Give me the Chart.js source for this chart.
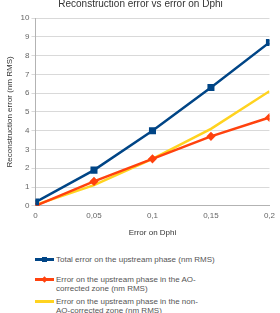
<!DOCTYPE html>
<html>
<head>
<meta charset="utf-8">
<script src="https://cdn.jsdelivr.net/npm/chart.js@4"></script>
<style>
  body { margin: 0; background: #fff; font-family: "Liberation Sans", Arial, sans-serif; }
  #wrap { position: relative; width: 280px; height: 313px; overflow: hidden; }
  #chart { position: absolute; left: 0; top: -2px; }
  #legend { position: absolute; left: 35px; top: 255px; font-size: 8px; color: #555; line-height: 9px; }
  .item { display: flex; align-items: flex-start; }
  .sw { width: 19px; height: 9px; position: relative; margin-right: 2px; flex: none; }
  .sw i { position: absolute; left: 0; right: 0; top: 3px; height: 3px; }
  .sw b { position: absolute; left: 7px; top: 2px; width: 5px; height: 5px; }
</style>
</head>
<body>
<div id="wrap">
  <canvas id="chart" width="280" height="240"></canvas>
  <div id="legend"></div>
</div>
<script>
const xValues = [0, 0.05, 0.1, 0.15, 0.2];
const totalError = [0.2, 1.9, 4.0, 6.3, 8.7];
const aoError = [0.0, 1.3, 2.5, 3.7, 4.7];
const nonAoError = [0.05, 1.1, 2.5, 4.1, 6.1];
const seriesNames = [
  'Total error on the upstream phase (nm  RMS)',
  'Error on the upstream phase in the AO-corrected zone (nm RMS)',
  'Error on the upstream phase in the non-AO-corrected zone (nm RMS)'
];
const colors = ['#004586', '#ff420e', '#ffd320'];

function pts(vals) {
  return vals.map((v, i) => ({ x: xValues[i], y: v }));
}

new Chart(document.getElementById('chart'), {
  type: 'line',
  data: {
    datasets: [
      { label: seriesNames[0], data: pts(totalError), borderColor: colors[0], backgroundColor: colors[0],
        borderWidth: 2.5, pointStyle: 'rect', pointRadius: 3.2, order: 1 },
      { label: seriesNames[1], data: pts(aoError), borderColor: colors[1], backgroundColor: colors[1],
        borderWidth: 2.5, pointStyle: 'rectRot', pointRadius: 2.8, order: 2 },
      { label: seriesNames[2], data: pts(nonAoError), borderColor: colors[2], backgroundColor: colors[2],
        borderWidth: 2.5, pointRadius: 0, order: 3 }
    ]
  },
  options: {
    responsive: false,
    animation: false,
    layout: { padding: { top: 0, right: 4, left: 5, bottom: 0 } },
    plugins: {
      legend: { display: false },
      tooltip: { enabled: false },
      title: {
        display: true,
        text: 'Reconstruction error vs error on Dphi',
        color: '#333',
        font: { size: 10, weight: 'normal', family: 'Liberation Sans' },
        padding: { top: 0, bottom: 8 }
      }
    },
    scales: {
      x: {
        type: 'linear',
        min: 0, max: 0.2,
        grid: { display: false, drawTicks: false },
        border: { color: '#b3b3b3' },
        ticks: {
          stepSize: 0.05, color: '#666', padding: 5,
          font: { size: 8, family: 'Liberation Sans' },
          callback: v => String(+v.toFixed(2)).replace('.', ',')
        },
        title: { display: true, text: 'Error on Dphi', color: '#333',
          font: { size: 8, family: 'Liberation Sans' }, padding: { top: 3, bottom: 0 } }
      },
      y: {
        min: 0, max: 10,
        grid: { color: '#d9d9d9', tickLength: 4 },
        border: { color: '#b3b3b3' },
        ticks: { stepSize: 1, color: '#666', padding: 2, font: { size: 8, family: 'Liberation Sans' } },
        title: { display: true, text: 'Reconstruction error (nm RMS)', color: '#333',
          font: { size: 8, family: 'Liberation Sans' }, padding: { top: 0, bottom: 4 } }
      }
    }
  }
});

const legend = document.getElementById('legend');
const gaps = [11, 4, 0];
seriesNames.forEach((name, i) => {
  const item = document.createElement('div');
  item.className = 'item';
  item.style.marginBottom = gaps[i] + 'px';
  const marker = i === 0 ? '<b style="background:' + colors[i] + '"></b>'
    : i === 1 ? '<b style="background:' + colors[i] + ';transform:rotate(45deg) scale(0.9)"></b>' : '';
  item.innerHTML = '<span class="sw"><i style="background:' + colors[i] + '"></i>' + marker + '</span>' +
    '<span style="width:' + (i === 0 ? 200 : 145) + 'px">' + name + '</span>';
  legend.appendChild(item);
});
</script>
</body>
</html>
